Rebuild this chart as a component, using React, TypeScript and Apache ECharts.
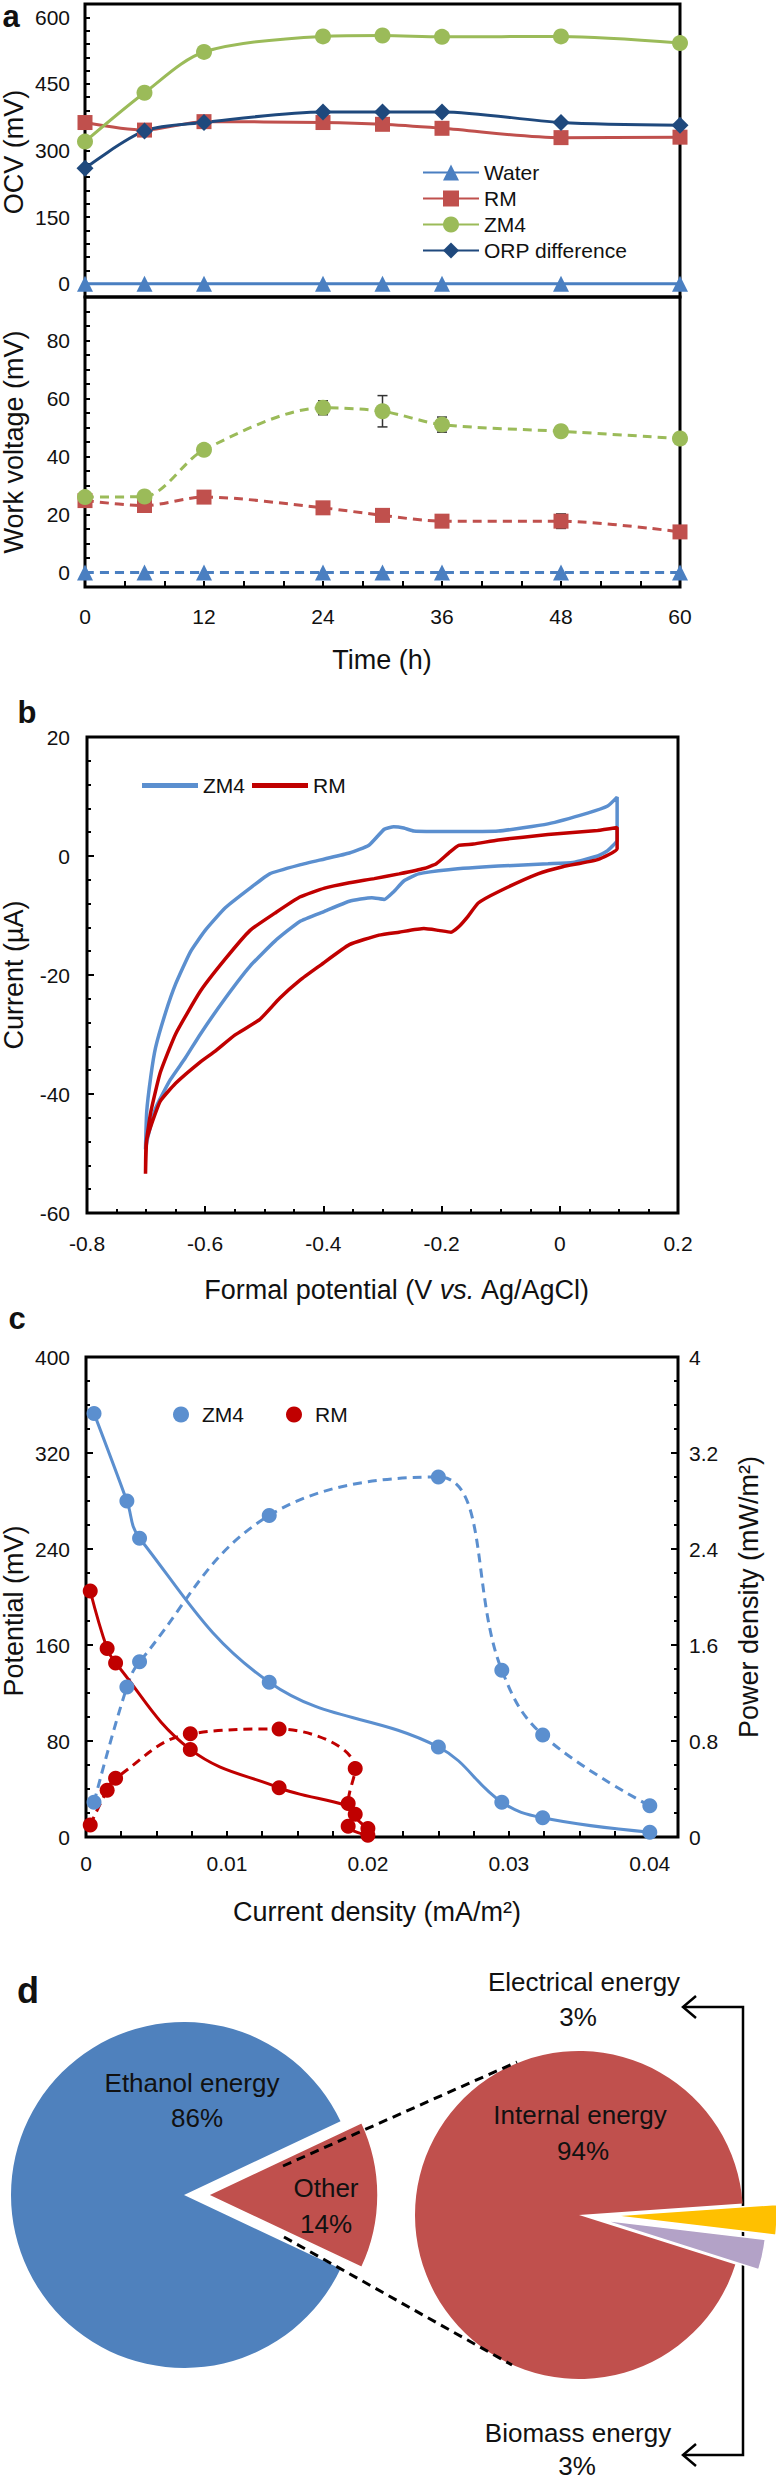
import React, { useEffect, useRef } from "react";
import * as echarts from "echarts";

const FONT = "'Liberation Sans', Arial, Helvetica, sans-serif";
const INK = "#111";

// ---------- Panel a ----------
const TIME_H = [0, 6, 12, 24, 30, 36, 48, 60];
const OCV_WATER = [0, 0, 0, 0, 0, 0, 0, 0];
const OCV_RM = [363, 346, 365, 363, 359, 350, 329, 330];
const OCV_ZM4 = [320, 430, 522, 557, 559, 556, 557, 542];
const OCV_ORP = [260, 344, 363, 387, 387, 387, 363, 357];
const WV_WATER = [0, 0, 0, 0, 0, 0, 0, 0];
const WV_RM = [24.8, 23.1, 26.0, 22.3, 19.7, 17.7, 17.7, 14.0];
const WV_RM_ERR = [1.5, 1.0, 1.8, 1.8, 1.0, 1.5, 2.5, 1.5];
const WV_ZM4 = [26.0, 26.2, 42.3, 56.8, 55.6, 51.0, 48.7, 46.2];
const WV_ZM4_ERR = [1.0, 1.0, 1.8, 2.4, 5.4, 2.6, 1.4, 0.8];
const OCV_LABELS = [0, 150, 300, 450, 600];
const WV_LABELS = [0, 20, 40, 60, 80];
const TIME_LABELS = [0, 12, 24, 36, 48, 60];

// ---------- Panel b (cyclic voltammetry, [V, µA]) ----------
const CV_ZM4: number[][] = [
  [-0.701, -49.3], [-0.699, -43.0], [-0.692, -37.0], [-0.684, -32.2], [-0.667, -26.3],
  [-0.65, -21.5], [-0.625, -16.1], [-0.6, -12.5], [-0.566, -8.7], [-0.524, -5.4],
  [-0.491, -3.0], [-0.44, -1.5], [-0.398, -0.5], [-0.356, 0.5], [-0.323, 1.8],
  [-0.297, 4.5], [-0.281, 4.9], [-0.264, 4.7], [-0.247, 4.2], [-0.188, 4.1],
  [-0.104, 4.2], [-0.02, 5.4], [0.047, 7.2], [0.081, 8.4], [0.097, 9.9],
  [0.097, 2.7], [0.081, 0.9], [0.064, 0.0], [0.022, -1.1], [-0.02, -1.3],
  [-0.104, -1.7], [-0.188, -2.3], [-0.239, -3.0], [-0.264, -4.2], [-0.281, -6.0],
  [-0.297, -7.3], [-0.318, -7.0], [-0.356, -7.6], [-0.398, -9.3], [-0.44, -11.0],
  [-0.482, -14.3], [-0.524, -18.5], [-0.566, -23.9], [-0.608, -29.9], [-0.634, -34.0],
  [-0.659, -37.6], [-0.684, -42.4], [-0.697, -47.2], [-0.701, -49.3],
];
const CV_RM: number[][] = [
  [-0.701, -53.4], [-0.7, -48.4], [-0.692, -43.0], [-0.676, -36.4], [-0.65, -29.9],
  [-0.608, -22.7], [-0.566, -17.3], [-0.524, -12.5], [-0.482, -9.6], [-0.44, -6.9],
  [-0.398, -5.4], [-0.356, -4.5], [-0.314, -3.8], [-0.272, -3.0], [-0.23, -2.1],
  [-0.209, -1.3], [-0.188, 0.5], [-0.171, 1.8], [-0.146, 2.0], [-0.104, 2.7],
  [-0.02, 3.6], [0.064, 4.3], [0.097, 4.8], [0.097, 1.2], [0.064, -0.6],
  [0.005, -1.8], [-0.037, -3.0], [-0.104, -6.0], [-0.138, -7.9], [-0.155, -10.1],
  [-0.171, -11.9], [-0.184, -12.8], [-0.205, -12.5], [-0.23, -12.2], [-0.272, -12.8],
  [-0.306, -13.3], [-0.356, -14.9], [-0.407, -18.5], [-0.44, -20.9], [-0.474, -23.9],
  [-0.508, -27.5], [-0.55, -30.1], [-0.583, -32.8], [-0.608, -34.6], [-0.65, -38.2],
  [-0.676, -41.2], [-0.692, -45.4], [-0.699, -47.8], [-0.701, -53.4],
];

// ---------- Panel c (polarization) ----------
const ZM4_J = [0.00057, 0.0029, 0.0038, 0.013, 0.025, 0.0295, 0.0324, 0.04];
const ZM4_V = [353, 280, 249, 129, 75, 29, 16, 4];
const ZM4_P = [0.29, 1.25, 1.46, 2.68, 3.0, 1.39, 0.85, 0.26];
const RM_J = [0.0003, 0.0015, 0.0021, 0.0074, 0.0137, 0.0191, 0.0186, 0.02];
const RM_V = [205, 157, 145, 73, 41, 19, 9, 1.5];
const RM_P = [0.1, 0.39, 0.49, 0.86, 0.9, 0.57, 0.28, 0.07];

// ---------- Panel d (energy pies) ----------
const LEFT_NAMES = ["Other", "Ethanol energy"];
const LEFT_VALUES = [14, 86];
const RIGHT_NAMES = ["Electrical energy", "Biomass energy", "Internal energy"];
const RIGHT_VALUES = [3, 3, 94];

const zip = (xs: number[], ys: number[]) => xs.map((x, i) => [x, ys[i]]);

const C_WATER = "#4a7fc1";
const C_RM = "#c0504d";
const C_ZM4 = "#9bbb59";
const C_ORP = "#1f497d";
const C_BLUE = "#5b8fcf";
const C_DRED = "#c00000";

const txt = (text: string, x: number, y: number, size: number, extra: any = {}) => ({
  type: "text",
  x,
  y,
  z: 100,
  rotation: extra.rotation || 0,
  style: {
    text,
    fill: INK,
    font: `${extra.bold ? "bold " : ""}${size}px ${FONT}`,
    align: "center",
    verticalAlign: "middle",
    rich: extra.rich,
  },
});

const tickStyle = { lineStyle: { color: "#000", width: 2 } };
const minorStyle = { lineStyle: { color: "#000", width: 2 } };
const labelStyle = { fontFamily: FONT, fontSize: 21, color: INK };
const noLine = { show: false, onZero: false };

// Each panel's div; they may overlap (transparent backgrounds)
const A_TOP = 0, A_H = 700;
const B_TOP = 680, B_H = 640;
const C_TOP = 1285, C_H = 675;
const D_TOP = 1945, D_H = 2481 - 1945;

// ---------------- option a ----------------
function optionA(): any {
  const line = (name: string, data: number[], color: string, symbol: string, size: number, axis: number) => ({
    name,
    type: "line",
    xAxisIndex: axis,
    yAxisIndex: axis,
    data: zip(TIME_H, data),
    symbol,
    symbolSize: size,
    smooth: 0.3,
    clip: false,
    lineStyle: { color, width: 3, type: axis === 1 ? [9, 6] : "solid" },
    itemStyle: { color },
    z: 3,
  });
  const errSeries = (vals: number[], errs: number[]) => ({
    type: "custom",
    xAxisIndex: 1,
    yAxisIndex: 1,
    z: 1,
    clip: false,
    data: TIME_H.map((t, i) => [t, vals[i], errs[i]]),
    encode: { x: 0, y: 1 },
    renderItem: (_p: any, api: any) => {
      const x = api.value(0);
      const y = api.value(1);
      const e = api.value(2);
      const t = api.coord([x, y + e]);
      const b = api.coord([x, y - e]);
      const s = { stroke: "#333", lineWidth: 1.5 };
      return {
        type: "group",
        children: [
          { type: "line", shape: { x1: t[0], y1: t[1], x2: b[0], y2: b[1] }, style: s },
          { type: "line", shape: { x1: t[0] - 5, y1: t[1], x2: t[0] + 5, y2: t[1] }, style: s },
          { type: "line", shape: { x1: b[0] - 5, y1: b[1], x2: b[0] + 5, y2: b[1] }, style: s },
        ],
      };
    },
  });
  return {
    animation: false,
    textStyle: { fontFamily: FONT },
    grid: [
      { left: 85, top: 4 - A_TOP, width: 595, height: 293, show: true, borderColor: "#000", borderWidth: 3 },
      { left: 85, top: 297 - A_TOP, width: 595, height: 290, show: true, borderColor: "#000", borderWidth: 3 },
    ],
    xAxis: [
      { type: "value", gridIndex: 0, min: 0, max: 60, interval: 4, show: false, axisLine: noLine },
      {
        type: "value",
        gridIndex: 1,
        min: 0,
        max: 60,
        interval: 4,
        splitLine: { show: false },
        axisLine: noLine,
        axisTick: { show: true, inside: true, length: 6, ...tickStyle },
        axisLabel: {
          ...labelStyle,
          margin: 19,
          formatter: (v: number) => (TIME_LABELS.includes(v) ? String(v) : ""),
        },
      },
    ],
    yAxis: [
      {
        type: "value",
        gridIndex: 0,
        min: -30,
        max: 630,
        interval: 30,
        splitLine: { show: false },
        axisLine: noLine,
        axisTick: { show: true, inside: true, length: 5, ...tickStyle },
        axisLabel: {
          ...labelStyle,
          margin: 15,
          formatter: (v: number) => (OCV_LABELS.includes(v) ? String(v) : ""),
        },
      },
      {
        type: "value",
        gridIndex: 1,
        min: -5,
        max: 95,
        interval: 5,
        splitLine: { show: false },
        axisLine: noLine,
        axisTick: { show: true, inside: true, length: 5, ...tickStyle },
        axisLabel: {
          ...labelStyle,
          margin: 15,
          formatter: (v: number) => (WV_LABELS.includes(v) ? String(v) : ""),
        },
      },
    ],
    legend: {
      orient: "vertical",
      left: 417,
      top: 157 - A_TOP,
      itemWidth: 56,
      itemHeight: 20,
      itemGap: 5,
      data: ["Water", "RM", "ZM4", "ORP difference"],
      textStyle: { fontFamily: FONT, fontSize: 21, color: INK, lineHeight: 20 },
    },
    series: [
      errSeries(WV_ZM4, WV_ZM4_ERR),
      errSeries(WV_RM, WV_RM_ERR),
      line("Water", OCV_WATER, C_WATER, "triangle", 16, 0),
      line("RM", OCV_RM, C_RM, "rect", 15, 0),
      line("ZM4", OCV_ZM4, C_ZM4, "circle", 16, 0),
      line("ORP difference", OCV_ORP, C_ORP, "diamond", 17, 0),
      line("Water", WV_WATER, C_WATER, "triangle", 16, 1),
      line("RM", WV_RM, C_RM, "rect", 15, 1),
      line("ZM4", WV_ZM4, C_ZM4, "circle", 16, 1),
    ],
    graphic: [
      txt("a", 11, 16 - A_TOP, 31, { bold: true }),
      txt("OCV (mV)", 14, 152 - A_TOP, 27, { rotation: Math.PI / 2 }),
      txt("Work voltage (mV)", 14, 442 - A_TOP, 27, { rotation: Math.PI / 2 }),
      txt("Time (h)", 382, 660 - A_TOP, 27),
    ],
  };
}

// ---------------- option b ----------------
function optionB(): any {
  const cv = (name: string, data: number[][], color: string) => ({
    name,
    type: "line",
    data,
    showSymbol: false,
    symbol: "none",
    smooth: 0.15,
    clip: false,
    lineStyle: { color, width: 3.5 },
    itemStyle: { color },
  });
  return {
    animation: false,
    textStyle: { fontFamily: FONT },
    grid: { left: 87, top: 737 - B_TOP, width: 591, height: 476, show: true, borderColor: "#000", borderWidth: 3 },
    xAxis: {
      type: "value",
      min: -0.8,
      max: 0.2,
      interval: 0.2,
      splitLine: { show: false },
      axisLine: noLine,
      axisTick: { show: true, inside: true, length: 7, ...tickStyle },
      minorTick: { show: true, splitNumber: 4, length: 4, ...minorStyle },
      axisLabel: { ...labelStyle, margin: 20 },
    },
    yAxis: {
      type: "value",
      min: -60,
      max: 20,
      interval: 20,
      splitLine: { show: false },
      axisLine: noLine,
      axisTick: { show: true, inside: true, length: 7, ...tickStyle },
      minorTick: { show: true, splitNumber: 5, length: 4, ...minorStyle },
      axisLabel: { ...labelStyle, margin: 17 },
    },
    legend: {
      left: 137,
      top: 780 - B_TOP - 10,
      itemWidth: 56,
      itemHeight: 5,
      itemGap: 7,
      data: [
        { name: "ZM4", icon: "rect" },
        { name: "RM", icon: "rect" },
      ],
      textStyle: { fontFamily: FONT, fontSize: 21, color: INK },
    },
    series: [cv("ZM4", CV_ZM4, C_BLUE), cv("RM", CV_RM, C_DRED)],
    graphic: [
      txt("b", 27, 712 - B_TOP, 31, { bold: true }),
      txt("Current (µA)", 14, 975 - B_TOP, 27, { rotation: Math.PI / 2 }),
      txt("Formal potential (V {i|vs.} Ag/AgCl)", 397, 1290 - B_TOP, 27, {
        rich: { i: { fontStyle: "italic", fontSize: 27, fontFamily: FONT, fill: INK } },
      }),
    ],
  };
}

// ---------------- option c ----------------
function optionC(): any {
  const s = (name: string, xs: number[], ys: number[], color: string, axis: number) => ({
    name,
    type: "line",
    yAxisIndex: axis,
    data: zip(xs, ys),
    symbol: "circle",
    symbolSize: 15,
    smooth: 0.4,
    clip: false,
    lineStyle: { color, width: 3, type: axis === 1 ? [9, 6] : "solid" },
    itemStyle: { color },
  });
  const yBase = {
    type: "value",
    splitLine: { show: false },
    axisLine: noLine,
    axisTick: { show: true, inside: true, length: 7, ...tickStyle },
    minorTick: { show: true, splitNumber: 4, length: 4, ...minorStyle },
  };
  return {
    animation: false,
    textStyle: { fontFamily: FONT },
    grid: { left: 86, top: 1357 - C_TOP, width: 592, height: 480, show: true, borderColor: "#000", borderWidth: 3 },
    xAxis: {
      type: "value",
      min: 0,
      max: 0.042,
      interval: 0.0025,
      splitLine: { show: false },
      axisLine: noLine,
      axisTick: { show: true, inside: true, length: 6, ...tickStyle },
      axisLabel: {
        ...labelStyle,
        margin: 16,
        formatter: (v: number) => {
          const k = v / 0.01;
          if (Math.abs(k - Math.round(k)) > 1e-6) return "";
          return v === 0 ? "0" : v.toFixed(2);
        },
      },
    },
    yAxis: [
      { ...yBase, min: 0, max: 400, interval: 80, axisLabel: { ...labelStyle, margin: 16 } },
      { ...yBase, min: 0, max: 4, interval: 0.8, position: "right", axisLabel: { ...labelStyle, margin: 11 } },
    ],
    legend: {
      left: 168,
      top: 1409 - C_TOP - 10,
      itemWidth: 16,
      itemHeight: 16,
      itemGap: 42,
      data: [
        { name: "ZM4", icon: "circle" },
        { name: "RM", icon: "circle" },
      ],
      textStyle: { fontFamily: FONT, fontSize: 21, color: INK, padding: [0, 0, 0, 8] },
    },
    series: [
      s("ZM4", ZM4_J, ZM4_V, C_BLUE, 0),
      s("ZM4", ZM4_J, ZM4_P, C_BLUE, 1),
      s("RM", RM_J, RM_V, C_DRED, 0),
      s("RM", RM_J, RM_P, C_DRED, 1),
    ],
    graphic: [
      txt("c", 17, 1318 - C_TOP, 31, { bold: true }),
      txt("Potential (mV)", 14, 1611 - C_TOP, 27, { rotation: Math.PI / 2 }),
      txt("Power density (mW/m²)", 749, 1597 - C_TOP, 27, { rotation: Math.PI / 2 }),
      txt("Current density (mA/m²)", 377, 1912 - C_TOP, 27),
    ],
  };
}

// ---------------- option d ----------------
function optionD(): any {
  const LEFT_COLORS = [C_RM, "#4f81bd"];
  const RIGHT_COLORS = ["#ffc000", "#b3a2c7", C_RM];
  const Y = (v: number) => v - D_TOP;
  const leftCenter = [184, Y(2195)];
  const rightCenter = [579, Y(2215)];
  const leftTotal = LEFT_VALUES.reduce((a, b) => a + b, 0);
  const rightTotal = RIGHT_VALUES.reduce((a, b) => a + b, 0);
  const leftStart = ((LEFT_VALUES[0] / leftTotal) * 360) / 2;
  const rightStart = 4;
  const midAngle = (values: number[], total: number, start: number, idx: number) => {
    let a = start;
    for (let i = 0; i < idx; i++) a -= (values[i] / total) * 360;
    return a - ((values[idx] / total) * 360) / 2;
  };
  const shifted = (c: number[], ang: number, d: number) => {
    const r = (ang * Math.PI) / 180;
    return [c[0] + d * Math.cos(r), c[1] - d * Math.sin(r)];
  };
  const pie = (
    names: string[],
    values: number[],
    colors: string[],
    visible: number[],
    center: number[],
    radius: number,
    start: number,
    z: number
  ) => ({
    type: "pie",
    silent: true,
    z,
    center,
    radius,
    startAngle: start,
    clockwise: true,
    label: { show: false },
    labelLine: { show: false },
    emphasis: { disabled: true },
    data: names.map((n, i) => ({
      name: n,
      value: values[i],
      itemStyle: visible.includes(i)
        ? { color: colors[i], borderColor: "#fff", borderWidth: i === names.length - 1 ? 0 : 1.5 }
        : { color: "rgba(0,0,0,0)", borderWidth: 0 },
    })),
  });
  const otherC = shifted(leftCenter, midAngle(LEFT_VALUES, leftTotal, leftStart, 0), 24);
  const elecC = shifted(rightCenter, midAngle(RIGHT_VALUES, rightTotal, rightStart, 0), 34);
  const bioC = shifted(rightCenter, midAngle(RIGHT_VALUES, rightTotal, rightStart, 1), 24);
  const dash = { stroke: "#000", lineWidth: 3, lineDash: [9, 6] };
  const solid = { stroke: "#000", lineWidth: 2.5, fill: null };
  return {
    animation: false,
    textStyle: { fontFamily: FONT },
    series: [
      pie(LEFT_NAMES, LEFT_VALUES, LEFT_COLORS, [1], leftCenter, 173, leftStart, 2),
      pie(LEFT_NAMES, LEFT_VALUES, LEFT_COLORS, [0], otherC, 170, leftStart, 2),
      pie(RIGHT_NAMES, RIGHT_VALUES, RIGHT_COLORS, [2], rightCenter, 164, rightStart, 2),
      pie(RIGHT_NAMES, RIGHT_VALUES, RIGHT_COLORS, [1], bioC, 164, rightStart, 3),
      pie(RIGHT_NAMES, RIGHT_VALUES, RIGHT_COLORS, [0], elecC, 164, rightStart, 4),
    ],
    graphic: [
      { type: "polyline", z: 0, shape: { points: [[683, Y(2007)], [743, Y(2007)], [743, Y(2455)], [683, Y(2455)]] }, style: solid },
      { type: "polyline", z: 0, shape: { points: [[696, Y(1996)], [683, Y(2007)], [696, Y(2018)]] }, style: solid },
      { type: "polyline", z: 0, shape: { points: [[696, Y(2444)], [683, Y(2455)], [696, Y(2466)]] }, style: solid },
      { type: "line", z: 50, shape: { x1: 283, y1: Y(2166), x2: 517, y2: Y(2062) }, style: dash },
      { type: "line", z: 50, shape: { x1: 284, y1: Y(2237), x2: 512, y2: Y(2365) }, style: dash },
      txt("d", 28, Y(1990), 36, { bold: true }),
      txt(LEFT_NAMES[1], 192, Y(2083), 26),
      txt(`${LEFT_VALUES[1]}%`, 197, Y(2118), 26),
      txt(LEFT_NAMES[0], 326, Y(2188), 26),
      txt(`${LEFT_VALUES[0]}%`, 326, Y(2224), 26),
      txt(RIGHT_NAMES[2], 580, Y(2115), 26),
      txt(`${RIGHT_VALUES[2]}%`, 583, Y(2151), 26),
      txt(RIGHT_NAMES[0], 584, Y(1982), 26),
      txt(`${RIGHT_VALUES[0]}%`, 578, Y(2017), 26),
      txt(RIGHT_NAMES[1], 578, Y(2433), 26),
      txt(`${RIGHT_VALUES[1]}%`, 577, Y(2466), 26),
    ],
  };
}

function Chart({ top, height, make }: { top: number; height: number; make: () => any }) {
  const ref = useRef<HTMLDivElement>(null);
  useEffect(() => {
    if (!ref.current) return;
    const chart = echarts.init(ref.current, undefined, { renderer: "svg" });
    chart.setOption(make());
    return () => chart.dispose();
  }, []);
  return <div ref={ref} style={{ position: "absolute", left: 0, top, width: 776, height }} />;
}

export default function App() {
  return (
    <div style={{ position: "absolute", left: 0, top: 0, width: 776, height: 2481, background: "#fff" }}>
      <Chart top={A_TOP} height={A_H} make={optionA} />
      <Chart top={B_TOP} height={B_H} make={optionB} />
      <Chart top={C_TOP} height={C_H} make={optionC} />
      <Chart top={D_TOP} height={D_H} make={optionD} />
    </div>
  );
}
